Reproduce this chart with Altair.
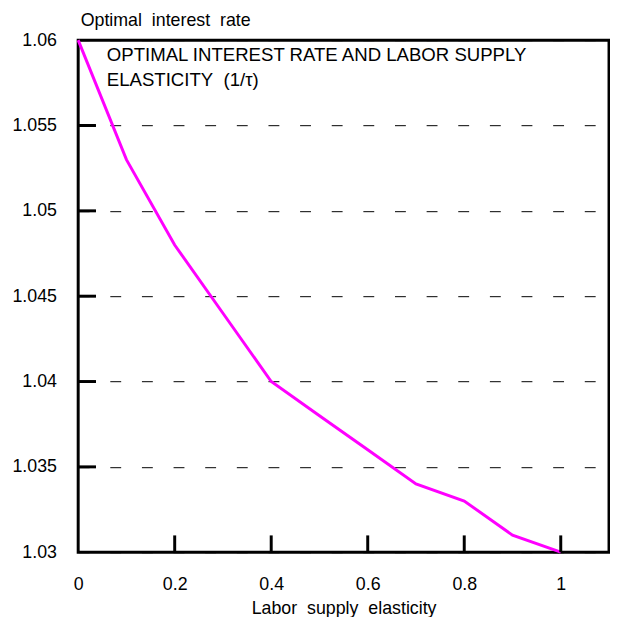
import altair as alt
import pandas as pd

# ---- data ----
elasticity = [0.0, 0.1, 0.2, 0.3, 0.4, 0.5, 0.6, 0.7, 0.8, 0.9, 1.0]
interest_rate = [1.060, 1.053, 1.048, 1.044, 1.040, 1.038, 1.036, 1.034, 1.033, 1.031, 1.030]

x_tick_values = [0.0, 0.2, 0.4, 0.6, 0.8, 1.0]
y_tick_values = [1.03, 1.035, 1.04, 1.045, 1.05, 1.055, 1.06]
x_inner_ticks = [0.2, 0.4, 0.6, 0.8, 1.0]
y_inner_ticks = [1.035, 1.04, 1.045, 1.05, 1.055]

NB = "\u00a0 "  # keeps the double word spacing of the original
panel_title = "OPTIMAL INTEREST RATE AND LABOR SUPPLY\nELASTICITY" + NB + "(1/τ)"
x_title = "Labor" + NB + "supply" + NB + "elasticity"
y_title = "Optimal" + NB + "interest" + NB + "rate"

W, H = 537, 518
FONT = "Liberation Sans"

line_df = pd.DataFrame({"e": elasticity, "r": interest_rate})
xt_df = pd.DataFrame({"e": x_inner_ticks})
yt_df = pd.DataFrame({"r": y_inner_ticks})
title_df = pd.DataFrame({"t": [panel_title]})

xscale = alt.Scale(domain=[0, 1.1], nice=False, zero=False)
yscale = alt.Scale(domain=[1.03, 1.06], nice=False, zero=False)

x_axis = alt.Axis(values=x_tick_values, format="~g", title=x_title,
                  grid=False, labelFlush=False, labelOverlap=False,
                  labelBaseline="alphabetic", labelPadding=38,
                  titleY=62, titleBaseline="alphabetic")
y_axis = alt.Axis(values=y_tick_values, format="~g", title=y_title,
                  grid=True, gridColor="black", gridWidth=1,
                  gridDash=[11, 21], labelFlush=False, labelOverlap=False,
                  labelPadding=22, labelBaseline="middle",
                  titleAngle=0, titleAlign="left", titleBaseline="alphabetic",
                  titleX=2, titleY=-15)

line = alt.Chart(line_df).mark_line(color="#ff00ff", strokeWidth=3).encode(
    x=alt.X("e:Q", scale=xscale, axis=x_axis),
    y=alt.Y("r:Q", scale=yscale, axis=y_axis),
)

xticks = alt.Chart(xt_df).mark_rule(color="black", strokeWidth=3).encode(
    x=alt.X("e:Q", scale=xscale, axis=x_axis),
    y=alt.value(H),
    y2=alt.value(H - 17),
)

yticks = alt.Chart(yt_df).mark_rule(color="black", strokeWidth=3).encode(
    y=alt.Y("r:Q", scale=yscale, axis=y_axis),
    x=alt.value(0),
    x2=alt.value(18),
)

label = alt.Chart(title_df).mark_text(
    align="left", baseline="alphabetic", font=FONT, fontSize=18.8,
    color="black", lineBreak="\n", lineHeight=25,
).encode(
    text="t:N",
    x=alt.value(29),
    y=alt.value(21),
)

chart = alt.layer(line, xticks, yticks, label).properties(
    width=W, height=H,
    autosize="none",
    padding={"left": 71, "top": 29, "right": 1, "bottom": 62},
).configure_view(
    stroke="black", strokeWidth=3
).configure_axis(
    domain=False, ticks=False,
    labelFont=FONT, labelFontSize=18, labelColor="black",
    titleFont=FONT, titleFontSize=18, titleFontWeight="normal", titleColor="black",
)

chart.save("out.html", embed_options={"renderer": "svg", "actions": False})
